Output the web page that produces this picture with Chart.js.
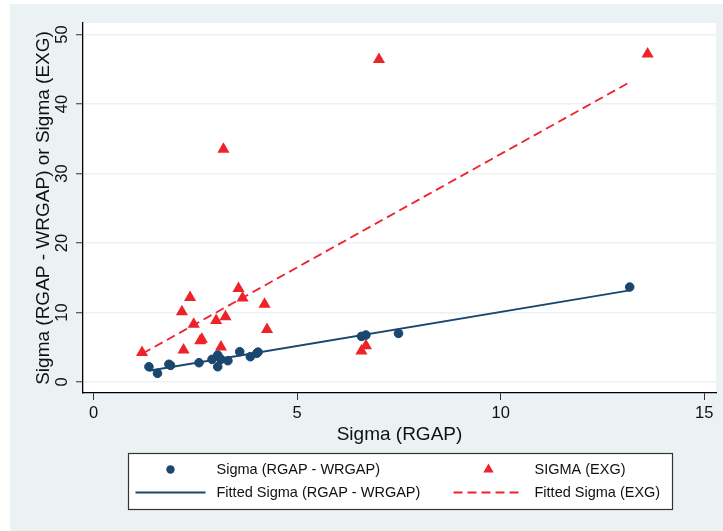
<!DOCTYPE html>
<html>
<head>
<meta charset="utf-8">
<script src="https://cdn.jsdelivr.net/npm/chart.js@4.4.0/dist/chart.umd.min.js"></script>
<style>
html, body { margin: 0; padding: 0; background: #fff; }
</style>
</head>
<body>
<canvas id="chart" width="723" height="531"></canvas>
<script>
// values
const rgapX = [1.36, 1.57, 1.85, 1.89, 2.59, 2.91, 3.05, 3.05, 3.13, 3.30, 3.59, 3.85, 4.01, 4.04, 6.58, 6.69, 7.49, 13.17]
const rgapY = [2.2, 1.25, 2.55, 2.4, 2.78, 3.26, 3.88, 2.2, 3.26, 3.07, 4.36, 3.64, 4.13, 4.3, 6.57, 6.76, 7.0, 13.67]

const exgX = [1.19, 2.17, 2.21, 2.37, 2.46, 2.62, 2.66, 3.01, 3.13, 3.19, 3.24, 3.56, 3.66, 4.2, 4.26, 6.58, 6.69, 7.01, 13.61]
const exgY = [4.25, 10.1, 4.6, 12.15, 8.3, 5.95, 6.15, 8.85, 5.05, 33.47, 9.4, 13.45, 12.1, 11.2, 7.55, 4.45, 5.2, 46.4, 47.2]

const fitRgapX = [1.36, 13.17]
const fitRgapY = [1.62, 13.2]
const fitExgX = [1.2, 13.16]
const fitExgY = [4.09, 43.1]

const xTicks = [0, 5, 10, 15]
const yTicks = [0, 10, 20, 30, 40, 50]

const navy = "#1a476f"
const red = "#ee2229"
const font = "'Liberation Sans', Arial, sans-serif"

function pts(xs, ys) {
    return xs.map(function (x, i) { return {x: x, y: ys[i]} })
}

// stata style: light outer band, white plot region
const stataBackground = {
    id: "stataBackground",
    beforeDraw(chart) {
        const ctx = chart.ctx
        const a = chart.chartArea
        ctx.save()
        ctx.fillStyle = "#eaf2f3"
        ctx.fillRect(10, 4, chart.width - 10, chart.height - 4)
        ctx.fillStyle = "#fff"
        ctx.fillRect(a.left, a.top, a.right - a.left, a.bottom - a.top)
        ctx.restore()
    }
}

// boxed two column legend under the x axis
const boxLegend = {
    id: "boxLegend",
    afterDraw(chart) {
        const ctx = chart.ctx
        const w = 544, h = 56
        const left = 128.5
        const top = 453.5
        ctx.save()
        ctx.fillStyle = "#fff"
        ctx.fillRect(left, top, w, h)
        ctx.strokeStyle = "#333"
        ctx.lineWidth = 1.2
        ctx.strokeRect(left, top, w, h)

        const symX = [42, 360]
        const textX = [88, 406]
        const rowY = [16, 39]
        chart.data.datasets.forEach(function (ds, i) {
            const col = i % 2
            const row = Math.floor(i / 2)
            const cx = left + symX[col]
            const cy = top + rowY[row]
            if (ds.showLine) {
                ctx.strokeStyle = ds.borderColor
                ctx.lineWidth = ds.borderWidth
                ctx.setLineDash(ds.borderDash || [])
                ctx.beginPath()
                ctx.moveTo(cx - 35, cy)
                ctx.lineTo(cx + 35, cy)
                ctx.stroke()
                ctx.setLineDash([])
            } else if (ds.pointStyle == "triangle") {
                const r = 6
                ctx.fillStyle = ds.backgroundColor
                ctx.beginPath()
                ctx.moveTo(cx, cy - r)
                ctx.lineTo(cx + r * 0.866, cy + r / 2)
                ctx.lineTo(cx - r * 0.866, cy + r / 2)
                ctx.closePath()
                ctx.fill()
            } else {
                ctx.fillStyle = ds.backgroundColor
                ctx.beginPath()
                ctx.arc(cx, cy, 4.2, 0, Math.PI * 2)
                ctx.fill()
            }
            ctx.fillStyle = "#111"
            ctx.font = "14.5px " + font
            ctx.textBaseline = "middle"
            ctx.textAlign = "left"
            ctx.fillText(ds.label, left + textX[col], cy)
        })
        ctx.restore()
    }
}

new Chart(document.getElementById("chart"), {
    type: "scatter",
    data: {
        datasets: [
            {
                label: "Sigma (RGAP - WRGAP)",
                data: pts(rgapX, rgapY),
                pointStyle: "circle",
                pointRadius: 4.3,
                borderWidth: 1,
                backgroundColor: navy,
                borderColor: navy,
                order: 0
            },
            {
                label: "SIGMA (EXG)",
                data: pts(exgX, exgY),
                pointStyle: "triangle",
                pointRadius: 7,
                borderWidth: 0,
                backgroundColor: red,
                borderColor: red,
                order: 0
            },
            {
                label: "Fitted Sigma (RGAP - WRGAP)",
                data: pts(fitRgapX, fitRgapY),
                showLine: true,
                pointRadius: 0,
                borderColor: navy,
                borderWidth: 1.8,
                order: 1
            },
            {
                label: "Fitted Sigma (EXG)",
                data: pts(fitExgX, fitExgY),
                showLine: true,
                pointRadius: 0,
                borderColor: red,
                borderWidth: 1.8,
                borderDash: [9, 5],
                order: 1
            }
        ]
    },
    options: {
        responsive: false,
        animation: false,
        events: [],
        layout: {padding: {top: 23, right: 2, bottom: 78, left: 0}},
        plugins: {
            legend: {display: false},
            tooltip: {enabled: false}
        },
        scales: {
            x: {
                type: "linear",
                min: -0.26,
                max: 15.29,
                afterBuildTicks: function (axis) { axis.ticks = xTicks.map(function (v) { return {value: v} }) },
                afterFit: function (s) { s.height = 60; s.paddingLeft = 0; s.paddingRight = 0 },
                grid: {drawOnChartArea: false, drawTicks: true, tickLength: 7, tickColor: "#333", tickWidth: 1},
                border: {display: true, color: "#000", width: 1.3},
                ticks: {font: {family: font, size: 16.5}, color: "#111", padding: 4, maxRotation: 0},
                title: {display: true, text: "Sigma (RGAP)", font: {family: font, size: 19}, color: "#111", padding: {top: 2, bottom: 7}}
            },
            y: {
                type: "linear",
                min: -1.58,
                max: 51.65,
                afterBuildTicks: function (axis) { axis.ticks = yTicks.map(function (v) { return {value: v} }) },
                afterFit: function (s) { s.width = 83; s.paddingTop = 0; s.paddingBottom = 0 },
                grid: {color: "#eaf2f3", lineWidth: 1.5, drawTicks: true, tickLength: 7, tickColor: "#333", tickWidth: 1},
                border: {display: true, color: "#000", width: 1.3},
                ticks: {font: {family: font, size: 16.5}, color: "#111", minRotation: 90, maxRotation: 90, crossAlign: "center", padding: 4},
                title: {display: true, text: "Sigma (RGAP - WRGAP) or Sigma (EXG)", font: {family: font, size: 19}, color: "#111", padding: {top: 32, bottom: 0}}
            }
        }
    },
    plugins: [stataBackground, boxLegend]
})
</script>
</body>
</html>
